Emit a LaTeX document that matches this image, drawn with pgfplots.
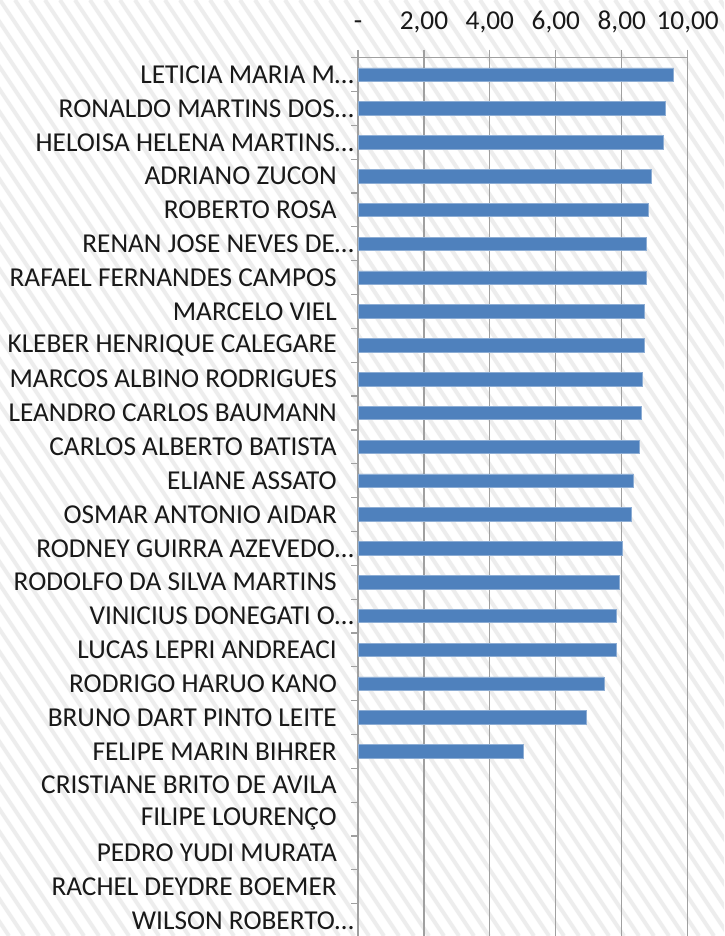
\documentclass[border=0pt]{standalone}
\usepackage{pgfplots}
\pgfplotsset{compat=1.18}
\usepackage{fontspec}
\setmainfont{Carlito}
\definecolor{barblue}{RGB}{79,129,189}
\definecolor{gridgray}{RGB}{160,160,160}
\newcommand{\tr}{\kern17pt}

\begin{document}
\begin{tikzpicture}
\useasboundingbox (0pt,0pt) rectangle (724pt,936pt);
\clip (0pt,0pt) rectangle (724pt,936pt);
\fill[white] (0pt,0pt) rectangle (724pt,936pt);
% hatched chart background
\foreach \s in {-660,-645,...,740} \draw[line width=4pt, black!7] (\s pt,936pt) -- ++(624pt,-936pt);
\begin{axis}[
  at={(358pt,878.3pt)}, anchor=north west,
  width=329.7pt, height=879.8pt, scale only axis,
  xmin=0, xmax=10, ymin=-0.5, ymax=25.5,
  axis x line*=top, axis y line*=left,
  axis line style={gridgray, line width=1.2pt},
  xmajorgrids, grid style={gridgray, line width=1.2pt},
  xtick={0,2,4,6,8,10},
  xticklabels={-,{2,00},{4,00},{6,00},{8,00},{10,00}},
  ytick={0,...,25},
  minor ytick={-0.5,0.5,...,25.5},
  tick align=outside,
  major tick length=8pt, minor tick length=7pt,
  tick style={gridgray, line width=1.2pt},
  every major y tick/.style={draw=none},
  tick label style={font=\fontsize{27.3}{31}\selectfont, text=black!90},
  yticklabel style={anchor=east, inner sep=0pt, xshift=4pt},
  xticklabel style={anchor=base, inner sep=0pt, yshift=20pt},
  yticklabels={
    WILSON ROBERTO…,
    RACHEL DEYDRE BOEMER\tr,
    PEDRO YUDI MURATA\tr,
    FILIPE LOURENÇO\tr,
    CRISTIANE BRITO DE AVILA\tr,
    FELIPE MARIN BIHRER\tr,
    BRUNO DART PINTO LEITE\tr,
    RODRIGO HARUO KANO\tr,
    LUCAS LEPRI ANDREACI\tr,
    VINICIUS DONEGATI O…,
    RODOLFO DA SILVA MARTINS\tr,
    RODNEY GUIRRA AZEVEDO…,
    OSMAR ANTONIO AIDAR\tr,
    ELIANE ASSATO\tr,
    CARLOS ALBERTO BATISTA\tr,
    LEANDRO CARLOS BAUMANN\tr,
    MARCOS ALBINO RODRIGUES\tr,
    KLEBER HENRIQUE CALEGARE\tr,
    MARCELO VIEL\tr,
    RAFAEL FERNANDES CAMPOS\tr,
    RENAN JOSE NEVES DE…,
    ROBERTO ROSA\tr,
    ADRIANO ZUCON\tr,
    HELOISA HELENA MARTINS…,
    RONALDO MARTINS DOS…,
    LETICIA MARIA M…},
  clip=false,
]
\addplot[xbar, bar width=13.5pt, fill=barblue, draw=barblue!65!white, line width=0.6pt]
  coordinates {
  (9.57,25) (9.33,24) (9.26,23) (8.91,22) (8.79,21) (8.75,20) (8.75,19)
  (8.67,18) (8.67,17) (8.63,16) (8.59,15) (8.52,14) (8.36,13) (8.28,12)
  (8.03,11) (7.92,10) (7.84,9) (7.84,8) (7.46,7) (6.92,6) (5.01,5)
  };
\end{axis}
\end{tikzpicture}
\end{document}
